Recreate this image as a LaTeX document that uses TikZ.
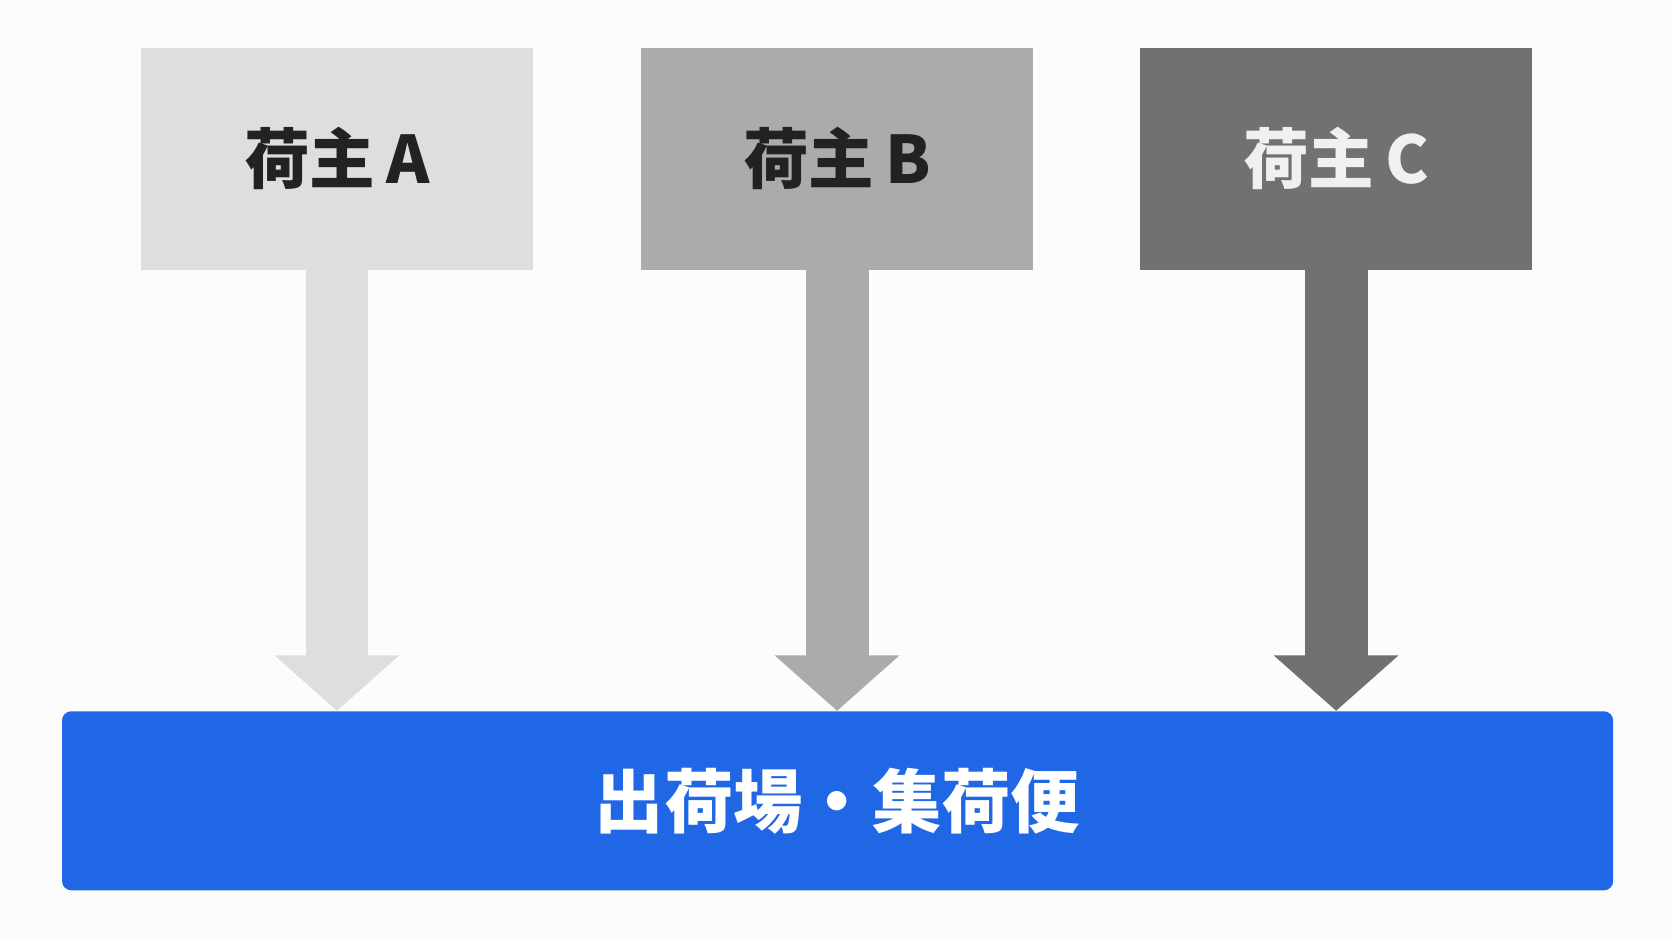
\documentclass[tikz,border=0pt]{standalone}
\usepackage{fontspec}
\newfontfamily\jp{Noto Sans CJK JP}
\usetikzlibrary{positioning, arrows.meta}
\definecolor{shpA}{RGB}{222,222,222}
\definecolor{shpB}{RGB}{171,171,171}
\definecolor{shpC}{RGB}{113,113,113}
\definecolor{txtDark}{RGB}{34,34,34}
\definecolor{txtLight}{RGB}{240,240,240}
\definecolor{depotBlue}{RGB}{31,103,229}
\begin{document}
\begin{tikzpicture}[
      x=0.02cm, y=-0.02cm,
      shipper/.style={minimum width=7.36cm, minimum height=4.16cm, inner sep=0pt, font=\jp\bfseries\fontsize{35}{40}\selectfont},
      flow/.style={line width=1.18cm, -{Triangle[width=2.28cm, length=1.04cm]}},
      depot/.style={fill=depotBlue, rounded corners=5pt, minimum width=29.1cm, minimum height=3.36cm, inner sep=0pt, text=white, font=\jp\bfseries\fontsize{37}{42}\selectfont}
    ]
      \fill[white!99!black] (0,0) rectangle (1568,882);
      \useasboundingbox (0,0) rectangle (1568,882);
      \node[shipper, fill=shpA, text=txtDark] (ownerA) at (316,149) {荷主\,A};
      \node[shipper, fill=shpB, text=txtDark] (ownerB) at (785,149) {荷主\,B};
      \node[shipper, fill=shpC, text=txtLight] (ownerC) at (1253,149) {荷主\,C};
      \node[depot] (depot) at (785.5,751) {出荷場・集荷便};
      
      \draw[flow, shpA] (ownerA.south) -- (ownerA.south |- depot.north);
      \draw[flow, shpB] (ownerB.south) -- (ownerB.south |- depot.north);
      \draw[flow, shpC] (ownerC.south) -- (ownerC.south |- depot.north);
    \end{tikzpicture}
\end{document}
